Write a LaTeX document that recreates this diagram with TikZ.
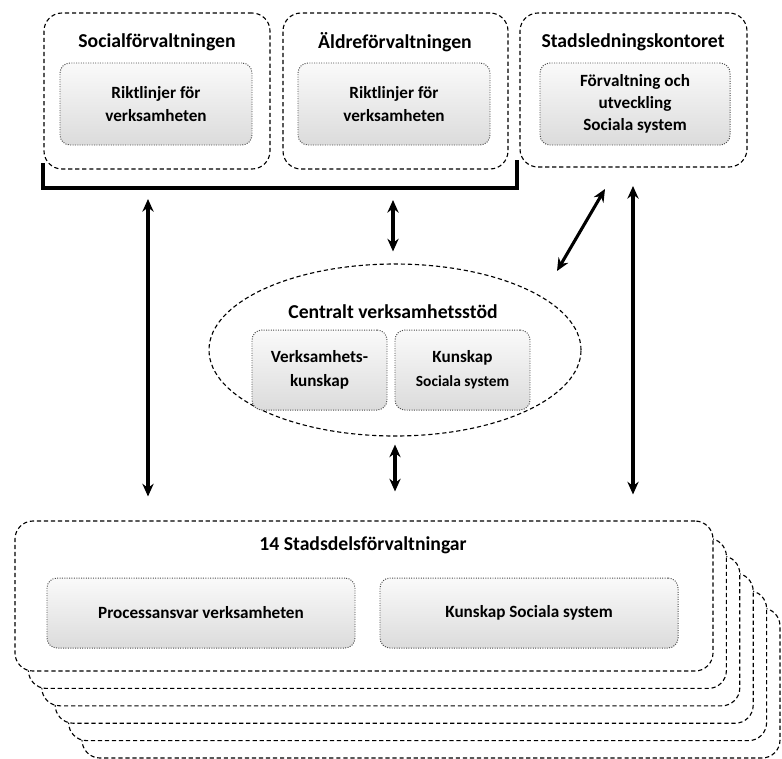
\documentclass[tikz,border=0pt]{standalone}
\usepackage{fontspec}
\setmainfont{Carlito}
\usetikzlibrary{shapes.geometric,arrows.meta}
\begin{document}
\begin{tikzpicture}[x=0.025cm,y=-0.025cm]
	% size of one pixel of the reference
	\def\px{0.025cm}
	\def\shx{13.4}
	\def\shy{17.4}
	% node style definition
	\tikzstyle{group} = [draw, dash pattern=on 3pt off 2pt, line width=0.8pt, rectangle, rounded corners=18*\px, inner sep=0pt];
	\tikzstyle{task} = [draw=black!70, densely dotted, line width=0.7pt, rectangle, rounded corners=10*\px, top color=gray!4, bottom color=gray!28, align=center, font=\bfseries\fontsize{12.2}{17}\selectfont];
	\tikzstyle{title} = [font=\bfseries\fontsize{14}{17}\selectfont];
	\tikzstyle{link} = [line width=2.2pt, {Stealth[length=9pt,width=8pt]}-{Stealth[length=9pt,width=8pt]}];
	\useasboundingbox (0,0) rectangle (782,758);
	% top row
	\node[group, minimum width=226*\px, minimum height=156*\px] (social) at (157,91) { };
	\node[title] (socialtitle) at (157,42) {Socialförvaltningen};
	\node[task, minimum width=192*\px, minimum height=82*\px] (socialrule) at (156,104) {Riktlinjer för\\verksamheten};
	\node[group, minimum width=225*\px, minimum height=156*\px] (aldre) at (395.5,91) { };
	\node[title] (aldretitle) at (395,42) {Äldreförvaltningen};
	\node[task, minimum width=192*\px, minimum height=82*\px] (aldrerule) at (394,104) {Riktlinjer för\\verksamheten};
	\node[group, minimum width=227*\px, minimum height=154*\px] (stad) at (633.5,90) { };
	\node[title] (stadtitle) at (633,42) {Stadsledningskontoret};
	\node[task, minimum width=190*\px, minimum height=82*\px, font=\bfseries\fontsize{12.2}{15.5}\selectfont] (stadsys) at (635,104) {Förvaltning och\\utveckling\\Sociala system};
	% bracket under the two first boxes
	\draw[line width=2.4pt] (43,163) |- (517,188) -- (517,160);
	% centre
	\node[group, ellipse, minimum width=372*\px, minimum height=172*\px] (central) at (395,350) { };
	\node[title] (centraltitle) at (393,312) {Centralt verksamhetsstöd};
	\node[task, minimum width=135*\px, minimum height=80*\px] (verk) at (319.5,370) {Verksamhets-\\kunskap};
	\node[task, minimum width=135*\px, minimum height=80*\px] (kunskap) at (462.5,370) {Kunskap\\{\fontsize{11}{15}\selectfont Sociala system}};
	% stack of the 14 district boxes
	\foreach \k in {5,4,...,1} {
		\node[group, fill=white, minimum width=698*\px, minimum height=150*\px] (stack\k) at (364+\shx*\k,596+\shy*\k) { };
	}
	\node[group, fill=white, minimum width=698*\px, minimum height=150*\px] (stadsdel) at (364,596) { };
	\node[title] (stadsdeltitle) at (363,545) {14 Stadsdelsförvaltningar};
	\node[task, minimum width=308*\px, minimum height=70*\px] (process) at (201,613) {Processansvar verksamheten};
	\node[task, minimum width=298*\px, minimum height=70*\px] (stadsdelsys) at (529,613) {Kunskap Sociala system};
	% arrows
	\coordinate (lefttop) at (148,199);
	\coordinate (midtop) at (393,200);
	\coordinate (diagtop) at (605,189);
	\coordinate (diagbot) at (557,271);
	\coordinate (righttop) at (633,186);
	\draw[link, shorten >=24*\px] (lefttop) -- (lefttop |- stadsdel.north);
	\draw[link, shorten >=12*\px] (midtop) -- (midtop |- central.north);
	\draw[link] (diagtop) -- (diagbot);
	\draw[link, shorten >=26*\px] (righttop) -- (righttop |- stadsdel.north);
	\draw[link, shorten <=8*\px, shorten >=29*\px] (central.south) -- (central.south |- stadsdel.north);
\end{tikzpicture}
\end{document}
